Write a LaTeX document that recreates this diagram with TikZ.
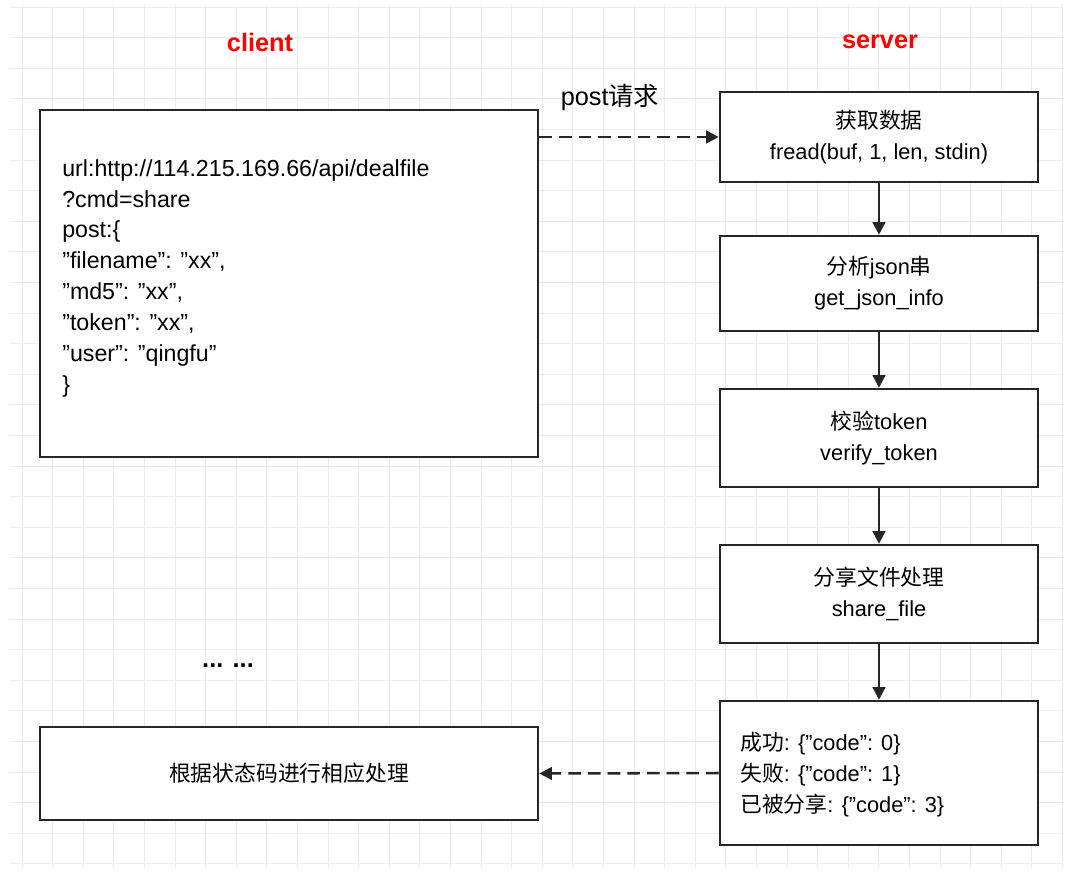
\documentclass[tikz,border=0pt]{standalone}
\usepackage{fontspec}
\setmainfont{Liberation Sans}
\newfontfamily\cjk{Noto Sans CJK SC}
\newcommand\qq{\symbol{34}}
\usetikzlibrary{arrows.meta}
\tikzset{
  box/.style={rectangle, draw=black!85, line width=1.8pt, fill=white},
  flow/.style={-{Triangle[length=9pt,width=9pt]}, draw=black!85, line width=1.8pt},
  ret/.style={flow, dashed, dash pattern=on 9pt off 5pt},
  title/.style={text=red, font=\fontsize{18}{20}\selectfont\bfseries},
  txt/.style={font=\fontsize{15.5}{22}\selectfont, align=center},
}
\begin{document}
\begin{tikzpicture}[x=0.025cm, y=-0.025cm]
  \useasboundingbox (0,0) rectangle (1074,876);
  % grid
  \foreach \i in {0,...,34} \draw [black!7, line width=0.6pt] ({22+30.6*\i}, 5) -- ({22+30.6*\i}, 868);
  \foreach \j in {0,...,28} \draw [black!7, line width=0.6pt] (10, {7+30.6*\j}) -- (1062, {7+30.6*\j});

  \node [title] (cl) at (260,42) {client};
  \node [title] (sv) at (880,42) {server};

  \node [box, minimum width=498*0.025cm, minimum height=347*0.025cm] (req) at (289,283.5) {};
  \node [anchor=north west, align=left, font=\fontsize{16.5}{22}\selectfont, inner sep=0pt] (reqtxt) at (62,159)
    {url:http://114.215.169.66/api/dealfile\\?cmd=share\\post:\{\\\qq filename\qq: \qq xx\qq,\\\qq md5\qq: \qq xx\qq,\\\qq token\qq: \qq xx\qq,\\\qq user\qq: \qq qingfu\qq\\\}};

  \node [box, txt, minimum width=318*0.025cm, minimum height=90*0.025cm] (get) at (879,137) {{\cjk 获取数据}\\fread(buf, 1, len, stdin)};
  \node [box, txt, minimum width=318*0.025cm, minimum height=95*0.025cm] (json) at (879,283.5) {{\cjk 分析}json{\cjk 串}\\get\_json\_info};
  \node [box, txt, minimum width=318*0.025cm, minimum height=98*0.025cm] (tok) at (879,438) {{\cjk 校验}token\\verify\_token};
  \node [box, txt, minimum width=318*0.025cm, minimum height=98*0.025cm] (share) at (879,594) {{\cjk 分享文件处理}\\share\_file};
  \node [box, minimum width=318*0.025cm, minimum height=144*0.025cm] (res) at (879,773) {};
  \node [anchor=west, align=left, font=\fontsize{15.5}{22}\selectfont, inner sep=0pt] (restxt) at (740,775)
    {{\cjk 成功}: \{\qq code\qq: 0\}\\{\cjk 失败}: \{\qq code\qq: 1\}\\{\cjk 已被分享}: \{\qq code\qq: 3\}};

  \node [box, txt, minimum width=498*0.025cm, minimum height=93*0.025cm] (hdl) at (289,773.5) {\cjk 根据状态码进行相应处理};
  \node [font=\fontsize{18}{20}\selectfont\bfseries] (dots) at (228,666) {... ...};
  \node [font=\fontsize{18}{20}\selectfont] (post) at (610,97) {post{\cjk 请求}};

  \draw [ret] (req.east |- get.west) -- (get.west);
  \draw [flow] (get) -- (json);
  \draw [flow] (json) -- (tok);
  \draw [flow] (tok) -- (share);
  \draw [flow] (share) -- (res);
  \draw [ret] (res.west) -- (hdl.east);
\end{tikzpicture}
\end{document}
